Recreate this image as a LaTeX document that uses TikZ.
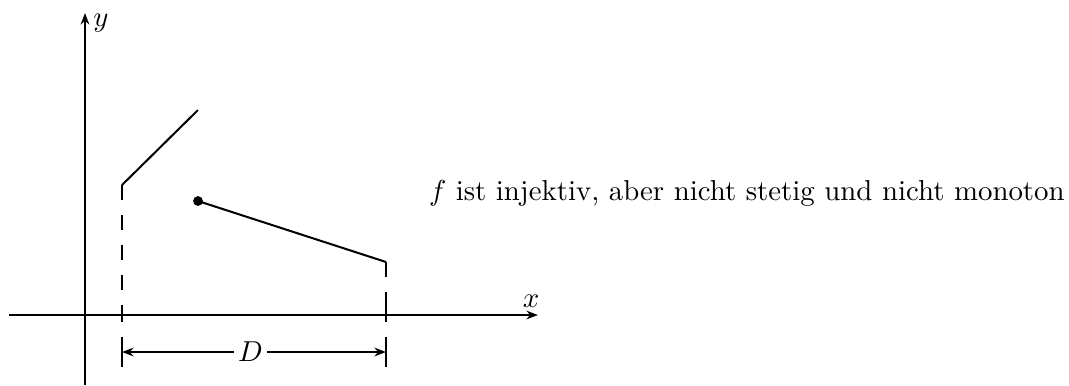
\documentclass[tikz,border=0pt]{standalone}
\usetikzlibrary{arrows.meta}
\begin{document}
\begin{tikzpicture}[x=0.347pt,y=-0.347pt,line width=0.7pt,
  >={Stealth[length=4pt,width=3pt,inset=1.3pt]},
  dashline/.style={dash pattern=on 5.2pt off 5.2pt},
  dotnode/.style={circle,fill,inner sep=0pt,minimum size=3.4pt},
  lbl/.style={inner sep=0pt}]
\useasboundingbox (0,0) rectangle (1069,385);
% axes
\coordinate (xs) at (9,315);
\coordinate (xe) at (538,315);
\coordinate (ys) at (85,385);
\coordinate (ye) at (85,13);
\draw[->] (xs) -- (xe);
\draw[->] (ys) -- (ye);
\node[lbl] (xl) at (531,301) {$x$};
\node[lbl] (yl) at (101,23) {$y$};
% function pieces
\coordinate (a1) at (122,185);
\coordinate (a2) at (198,110);
\draw (a1) -- (a2);
\node[dotnode] (dot) at (198,201) {};
\coordinate (b2) at (386,262);
\draw (dot.center) -- (b2);
% dashed drops
\coordinate (fa) at (122,315);
\coordinate (fb) at (386,315);
\draw[dashline] (a1) -- (fa);
\draw[dashline] (b2) -- (fb);
% axis ticks
\coordinate (ta1) at (122,307); \coordinate (ta2) at (122,322);
\coordinate (tb1) at (386,307); \coordinate (tb2) at (386,322);
\draw (ta1) -- (ta2);
\draw (tb1) -- (tb2);
% domain bracket
\coordinate (la) at (122,337); \coordinate (lb) at (122,367);
\coordinate (ra) at (386,337); \coordinate (rb) at (386,367);
\draw (la) -- (lb);
\draw (ra) -- (rb);
\coordinate (dl) at (122,352);
\coordinate (dr) at (386,352);
\draw[<->] (dl) -- node[pos=0.487,fill=white,inner sep=1.5pt] (D) {$D$} (dr);
% caption
\node[anchor=base west,inner sep=0pt] (t) at (428,200) {$f$ ist injektiv, aber nicht stetig und nicht monoton};
\end{tikzpicture}
\end{document}
